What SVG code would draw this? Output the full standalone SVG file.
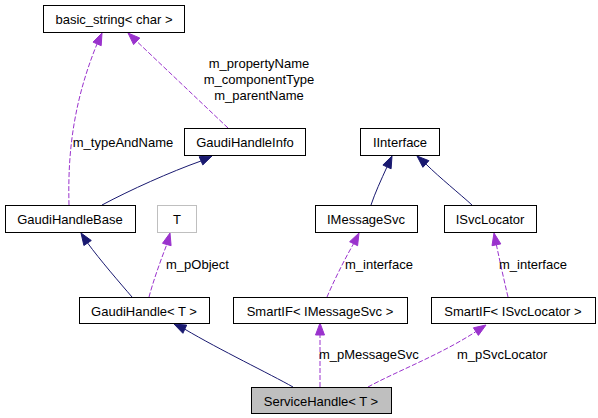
<svg xmlns="http://www.w3.org/2000/svg" width="598" height="418" viewBox="0 0 598 418">
<style>
.n rect{fill:#ffffff;stroke:#000000;stroke-width:1}
.n text,.lbl{font-family:"Liberation Sans",Arial,sans-serif;font-size:13px;fill:#000000}
.n text{text-anchor:middle}
.inh{fill:none;stroke:#191970;stroke-width:1}
.use{fill:none;stroke:#9a32cd;stroke-width:1;stroke-dasharray:5,2}
.ah-inh{fill:#191970;stroke:#191970}
.ah-use{fill:#9a32cd;stroke:#9a32cd}
</style>
<rect width="598" height="418" fill="#ffffff"/>
<g id="connectors">
  <!-- GaudiHandleBase -> basic_string -->
  <path class="use" d="M69,205 C68,165 70,110 97,44"/>
  <polygon class="ah-use" points="102,33 101.2,45.7 93,42.1"/>
  <!-- GaudiHandleInfo -> basic_string -->
  <path class="use" d="M228,128 L136.7,41.3"/>
  <polygon class="ah-use" points="128,33 139.8,38 133.6,44.6"/>
  <!-- GaudiHandleBase -> GaudiHandleInfo -->
  <path class="inh" d="M102,205 C130,190 170,172 201,161"/>
  <polygon class="ah-inh" points="212,156 202.8,164.9 199.2,156.7"/>
  <!-- GaudiHandle -> GaudiHandleBase -->
  <path class="inh" d="M132,297 C120,283 100,260 87.6,243"/>
  <polygon class="ah-inh" points="81,233 91.3,240.5 83.9,245.5"/>
  <!-- GaudiHandle -> T -->
  <path class="use" d="M149,297 C153,282 160,262 166.8,244.5"/>
  <polygon class="ah-use" points="170,233 171.1,245.7 162.5,243.3"/>
  <!-- IMessageSvc -> IInterface -->
  <path class="inh" d="M371,205 C375,193 381,180 387,166.9"/>
  <polygon class="ah-inh" points="392,156 391.1,168.8 382.9,165"/>
  <!-- ISvcLocator -> IInterface -->
  <path class="inh" d="M472,205 C460,194 440,178 425.9,164"/>
  <polygon class="ah-inh" points="417,156 428.9,160.7 422.9,167.3"/>
  <!-- SmartIF<IMessageSvc> -> IMessageSvc -->
  <path class="use" d="M327,297 C333,283 343,262 353.6,243.7"/>
  <polygon class="ah-use" points="359,233 357.6,245.7 349.6,241.7"/>
  <!-- SmartIF<ISvcLocator> -> ISvcLocator -->
  <path class="use" d="M508,297 C504,280 500,262 496.4,244.8"/>
  <polygon class="ah-use" points="494,233 500.8,243.9 492,245.7"/>
  <!-- ServiceHandle -> GaudiHandle -->
  <path class="inh" d="M293,387 C270,374 220,350 184.8,329.2"/>
  <polygon class="ah-inh" points="174,324 186.7,325.1 182.9,333.3"/>
  <!-- ServiceHandle -> SmartIF<IMessageSvc> -->
  <path class="use" d="M320,387 L320,335"/>
  <polygon class="ah-use" points="320,323 324.5,335 315.5,335"/>
  <!-- ServiceHandle -> SmartIF<ISvcLocator> -->
  <path class="use" d="M368,387 C395,372 440,355 475.9,331.6"/>
  <polygon class="ah-use" points="486,325 478.4,335.4 473.4,327.8"/>
  <!-- labels -->
  <text class="lbl" x="123" y="147" text-anchor="middle">m_typeAndName</text>
  <text class="lbl" x="259" y="68" text-anchor="middle">m_propertyName</text>
  <text class="lbl" x="259" y="84" text-anchor="middle">m_componentType</text>
  <text class="lbl" x="259" y="100" text-anchor="middle">m_parentName</text>
  <text class="lbl" x="166" y="269">m_pObject</text>
  <text class="lbl" x="345" y="269">m_interface</text>
  <text class="lbl" x="499" y="269">m_interface</text>
  <text class="lbl" x="319" y="359">m_pMessageSvc</text>
  <text class="lbl" x="457" y="359">m_pSvcLocator</text>
</g>
<g id="basic_string" class="n"><rect x="43.5" y="5.5" width="141" height="27"/><text x="114" y="24">basic_string&lt; char &gt;</text></g>
<g id="GaudiHandleInfo" class="n"><rect x="184.5" y="128.5" width="121" height="27"/><text x="245" y="147">GaudiHandleInfo</text></g>
<g id="IInterface" class="n"><rect x="360.5" y="128.5" width="79" height="27"/><text x="400" y="147">IInterface</text></g>
<g id="GaudiHandleBase" class="n"><rect x="5.5" y="205.5" width="130" height="27"/><text x="70" y="224">GaudiHandleBase</text></g>
<g id="T" class="n"><rect x="157.5" y="205.5" width="39" height="27" style="stroke:#bfbfbf"/><text x="177" y="224">T</text></g>
<g id="IMessageSvc" class="n"><rect x="315.5" y="205.5" width="102" height="27"/><text x="366" y="224">IMessageSvc</text></g>
<g id="ISvcLocator" class="n"><rect x="444.5" y="205.5" width="92" height="27"/><text x="490" y="224">ISvcLocator</text></g>
<g id="GaudiHandle" class="n"><rect x="79.5" y="297.5" width="130" height="26"/><text x="144" y="316">GaudiHandle&lt; T &gt;</text></g>
<g id="SmartIF_IMessageSvc" class="n"><rect x="233.5" y="297.5" width="174" height="26"/><text x="320" y="316">SmartIF&lt; IMessageSvc &gt;</text></g>
<g id="SmartIF_ISvcLocator" class="n"><rect x="431.5" y="297.5" width="164" height="26"/><text x="513" y="316">SmartIF&lt; ISvcLocator &gt;</text></g>
<g id="ServiceHandle" class="n"><rect x="251.5" y="387.5" width="140" height="26" style="fill:#bfbfbf"/><text x="321" y="406">ServiceHandle&lt; T &gt;</text></g>
</svg>
